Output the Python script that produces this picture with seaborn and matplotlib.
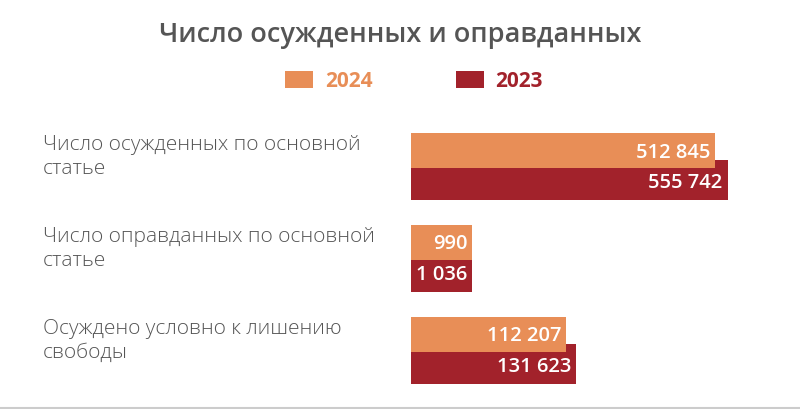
import numpy as np
import pandas as pd
import matplotlib
matplotlib.use("Agg")
import matplotlib.pyplot as plt
import matplotlib.transforms as mtransforms
from matplotlib.colors import to_hex
from matplotlib.patches import Patch
from matplotlib.lines import Line2D
import seaborn as sns

categories = ["Число осужденных по основной\nстатье",
              "Число оправданных по основной\nстатье",
              "Осуждено условно к лишению\nсвободы"]
years = ["2024", "2023"]
values_2024 = [512845, 990, 112207]
values_2023 = [555742, 1036, 131623]

colors = {"2024": "#E88E57", "2023": "#A2222B"}
gray = "#555555"

df = pd.DataFrame({
    "category": categories * 2,
    "year": ["2024"] * 3 + ["2023"] * 3,
    "value": values_2024 + values_2023,
})

sns.set_theme(style="white")
plt.rcParams["font.family"] = ["Open Sans", "DejaVu Sans"]

# bar lengths in the source are not linear: power scale with a minimum length
P = 0.6
A = 593.0
B = 0.0934  # px per scale unit


def fwd(v):
    v = np.asarray(v, dtype=float)
    return np.where(v < 1, v * A, A + np.abs(v) ** P - 1)


def inv(y):
    y = np.asarray(y, dtype=float)
    return np.where(y < A, y / A, np.abs(y - A + 1) ** (1 / P))


fig = plt.figure(figsize=(8, 4.1), dpi=100)
ax = fig.add_axes([411 / 800, 1 - 391.4 / 410, 379 / 800, 294.4 / 410])

sns.barplot(data=df, y="category", x="value", hue="year", hue_order=years,
            palette=colors, orient="h", saturation=1, legend=False, ax=ax)

ax.set_xscale("function", functions=(fwd, inv))
ax.set_xlim(0, float(inv(379 / B)))
ax.set_ylim(2.45, -0.75)

# overlapping bars, 2024 on top
d = 14.5 / 92
heights = {"2024": 34.5 / 92, "2023": 40 / 92}
hex_to_year = {to_hex(c): y for y, c in colors.items()}
for p in ax.patches:
    yr = hex_to_year.get(to_hex(p.get_facecolor()))
    if yr is None:
        continue
    i = round(p.get_y() + p.get_height() / 2)
    hh = heights[yr]
    c = i - d if yr == "2024" else i + d
    p.set_y(c - hh / 2)
    p.set_height(hh)
    p.set_edgecolor("none")
    p.set_zorder(3 if yr == "2024" else 2)
    v = p.get_width()
    dy = -1 if yr == "2024" else -3
    ax.annotate(f"{int(round(v)):,}".replace(",", " "), xy=(v, c),
                xytext=(-5, dy), textcoords="offset pixels",
                ha="right", va="center", color="white", fontsize=14.5,
                fontweight="semibold", zorder=4)

ax.axis("off")

# category labels on the left
trans = mtransforms.blended_transform_factory(fig.transFigure, ax.transData)
trans = trans + mtransforms.ScaledTranslation(0, 0.09, fig.dpi_scale_trans)
for i, cat in enumerate(categories):
    ax.text(43 / 800, i, cat, transform=trans, ha="left", va="center",
            fontsize=15, fontweight="light", color=gray, linespacing=1.25)

fig.text(0.5, 1 - 41.7 / 410, "Число осужденных и оправданных",
         ha="center", va="baseline", fontsize=19.5, fontweight="semibold", color=gray)

handles = [Patch(facecolor=colors[y], edgecolor="none", label=y) for y in years]
leg = fig.legend(handles=handles, loc="center", bbox_to_anchor=(414 / 800, 1 - 82 / 410),
                 ncol=2, frameon=False, fontsize=15, handlelength=1.35, handleheight=0.9,
                 handletextpad=0.55, columnspacing=4.0)
for txt, y in zip(leg.get_texts(), years):
    txt.set_color(colors[y])
    txt.set_fontweight("bold")

fig.add_artist(Line2D([0, 1], [1 - 409 / 410] * 2, transform=fig.transFigure,
                      color="#cccccc", lw=1.5))

fig.savefig("out.png", dpi=100)
